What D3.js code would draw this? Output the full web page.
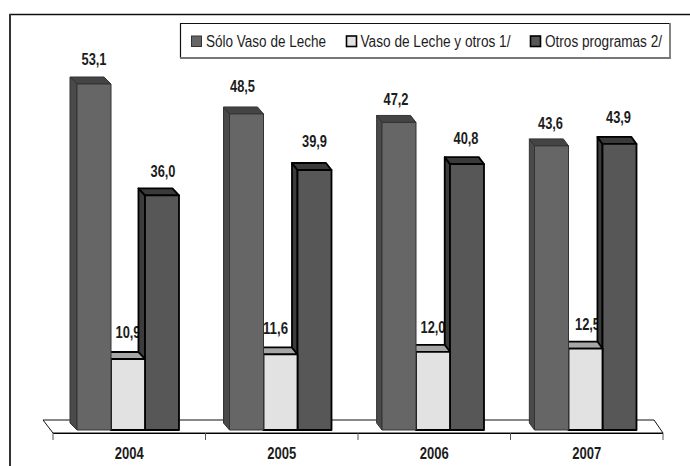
<!DOCTYPE html>
<html><head><meta charset="utf-8">
<script src="https://cdn.jsdelivr.net/npm/d3@7/dist/d3.min.js"></script>
<style>
html,body{margin:0;padding:0;background:#fff}
text{font-family:"Liberation Sans",Arial,sans-serif;fill:#1c1c1c}
</style></head><body>
<svg id="c" width="690" height="466" style="display:block"></svg>
<script>
const years = ["2004","2005","2006","2007"];
const seriesNames = ["Sólo Vaso de Leche","Vaso de Leche y otros 1/","Otros programas 2/"];
const soloVaso = [53.1,48.5,47.2,43.6];
const vasoOtros = [10.9,11.6,12.0,12.5];
const otros = [36.0,39.9,40.8,43.9];
const seriesValues = [soloVaso,vasoOtros,otros];
const fills = ["#666666","#e2e2e2","#575757"];
const topFills = ["#444444","#a6a6a6","#3a3a3a"];
const sideFills = ["#4a4a4a","#999999","#3c3c3c"];
const strokes = ["#333333","#000000","#000000"];
// hand-placed label nudges, [dx, dy] from each bar's top centre
const labelNudge = [
  [[0,-19],[-4,-22],[-3,-17.5],[-1,-17]],
  [[0,-21],[-5,-20],[0,-19],[2,-19]],
  [[1,-18],[0,-23],[-1,-20],[-1,-21]]
];

const svg = d3.select("#c");
const x0 = d3.scaleBand().domain(years).range([53,663]);
const x1 = d3.scaleBand().domain(d3.range(3)).range([24,126]);
const y = d3.scaleLinear().domain([0,53.1]).range([430,84]);
const depthY = 7;
const depthX = d3.scaleLinear().domain([77,300,636]).range([7,5.5,5]);
const fmt = v => d3.format(".1f")(v).replace(".",",");

// frame
svg.append("path").attr("d","M10,466V14.5H690").attr("fill","none").attr("stroke","#111").attr("stroke-width",1.4);
svg.append("line").attr("x1",10).attr("x2",10).attr("y1",14).attr("y2",466).attr("stroke","#333").attr("stroke-width",2);

// floor
svg.append("path").attr("d","M53,433L43,420H654L663,433Z").attr("fill","#fff").attr("stroke","#111").attr("stroke-width",1);
svg.append("line").attr("x1",53).attr("x2",663).attr("y1",433.5).attr("y2",433.5).attr("stroke","#000").attr("stroke-width",1.2);
const axis = d3.axisBottom(x0).tickValues(years).tickSize(0).tickPadding(0);
const gAxis = svg.append("g").attr("transform","translate(0,433)").call(axis);
gAxis.select(".domain").remove();
gAxis.selectAll("text").attr("y",26).attr("dy",0).attr("font-size",16).attr("font-weight","bold")
  .attr("font-family",'"Liberation Sans",Arial,sans-serif')
  .attr("textLength",29).attr("lengthAdjust","spacingAndGlyphs");
svg.selectAll(".tk").data(d3.range(5)).join("line").attr("class","tk")
  .attr("x1",i=>i<4?x0(years[i]):x0.range()[1]).attr("x2",i=>i<4?x0(years[i]):x0.range()[1])
  .attr("y1",433).attr("y2",440).attr("stroke","#555").attr("stroke-width",1);

function label(s,g){
  const v=seriesValues[s][g], n=labelNudge[s][g];
  svg.append("text").attr("x",x0(years[g])+x1(s)+x1.bandwidth()/2+n[0]).attr("y",y(v)+n[1])
    .attr("text-anchor","middle").attr("font-size",16).attr("font-weight","bold")
    .attr("textLength",25).attr("lengthAdjust","spacingAndGlyphs")
    .text(fmt(v));
}
function bar(s,g){
  const v=seriesValues[s][g];
  const xl=x0(years[g])+x1(s), xr=xl+x1.bandwidth(), yt=y(v), yb=y(0);
  const d=depthX(xl);
  const G=svg.append("g").attr("stroke",strokes[s]).attr("stroke-width",s===0?1:1.8).attr("stroke-linejoin","round");
  G.append("path").attr("d",`M${xl},${yb}L${xl-d},${yb-depthY}V${yt-depthY}L${xl},${yt}Z`).attr("fill",sideFills[s]);
  G.append("path").attr("d",`M${xl},${yt}L${xl-d},${yt-depthY}H${xr-d}L${xr},${yt}Z`).attr("fill",topFills[s]);
  G.append("rect").attr("x",xl).attr("y",yt).attr("width",xr-xl).attr("height",yb-yt).attr("fill",fills[s]);
}
years.forEach((yr,g)=>{
  label(1,g);   // sits behind the dark bar's side face
  [2,1,0].forEach(s=>bar(s,g));
  label(0,g);
  label(2,g);
});

// legend
svg.append("path").attr("d","M180.5,58V23.5H670").attr("fill","none").attr("stroke","#111").attr("stroke-width",1.2);
svg.append("path").attr("d","M670,23V58H180").attr("fill","none").attr("stroke","#777").attr("stroke-width",1.8);
const lx=[191.5,346.5,530.5], tx=[206,360.5,545], tw=[120,150,117];
seriesNames.forEach((n,i)=>{
  svg.append("rect").attr("x",lx[i]).attr("y",36).attr("width",10).attr("height",10.5)
    .attr("fill",fills[i]).attr("stroke",i===0?"#333":"#000").attr("stroke-width",i===0?1:1.6);
  svg.append("text").attr("x",tx[i]).attr("y",47).attr("font-size",16)
    .attr("textLength",tw[i]).attr("lengthAdjust","spacingAndGlyphs").text(n);
});
</script></body></html>
